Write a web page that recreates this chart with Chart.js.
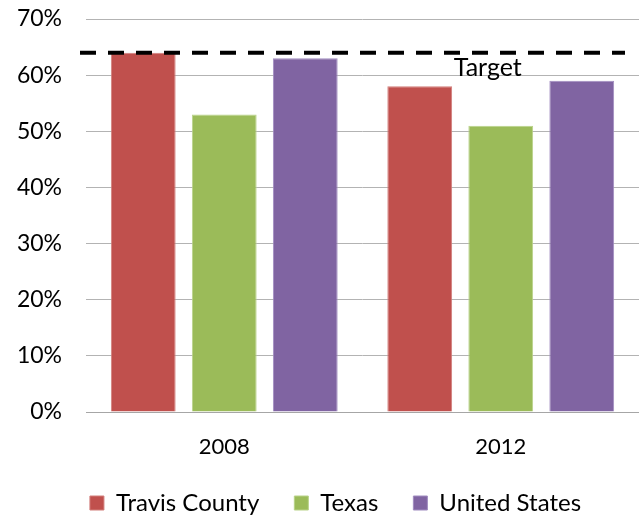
<!DOCTYPE html>
<html>
<head>
<meta charset="utf-8">
<script src="https://cdn.jsdelivr.net/npm/chart.js@4"></script>
<style>
  html, body { margin: 0; padding: 0; background: #ffffff; }
  #wrap { width: 639px; height: 516px; position: relative; }
</style>
</head>
<body>
<div id="wrap"><canvas id="chart" width="639" height="516"></canvas></div>
<script>
// Voter turnout by area, with the target rate
const categories = ['2008', '2012'];
const travisCounty = [64, 58];
const texas = [53, 51];
const unitedStates = [63, 59];
const targetRate = 64;
const targetLabel = 'Target';
const yTickValues = [0, 10, 20, 30, 40, 50, 60, 70];

const FONT = 'Lato, "Open Sans", sans-serif';

// Dashed target line with its caption
const targetLine = {
  id: 'targetLine',
  afterDatasetsDraw(chart) {
    const { ctx, chartArea, scales } = chart;
    const y = scales.y.getPixelForValue(targetRate);
    ctx.save();
    ctx.strokeStyle = '#000000';
    ctx.lineWidth = 4;
    ctx.setLineDash([16, 12]);
    ctx.beginPath();
    ctx.moveTo(chartArea.left - 6, y);
    ctx.lineTo(chartArea.right - 14, y);
    ctx.stroke();
    ctx.setLineDash([]);
    ctx.fillStyle = '#000000';
    ctx.font = '25px ' + FONT;
    ctx.textAlign = 'center';
    ctx.textBaseline = 'alphabetic';
    const x = scales.x.getPixelForValue(1) - 13;
    ctx.fillText(targetLabel, x, y + 23);
    ctx.restore();
  }
};

// Centre the legend row a little to the right, under the plot
const legendShift = {
  id: 'legendShift',
  afterLayout(chart) {
    if (chart.legend) chart.legend.left += 32;
  }
};

new Chart(document.getElementById('chart'), {
  type: 'bar',
  data: {
    labels: categories,
    datasets: [
      { label: 'Travis County', data: travisCounty, backgroundColor: '#C0504D', borderColor: '#D27E7B', borderWidth: 1 },
      { label: 'Texas', data: texas, backgroundColor: '#9BBB59', borderColor: '#B9D389', borderWidth: 1 },
      { label: 'United States', data: unitedStates, backgroundColor: '#8064A2', borderColor: '#A08CC0', borderWidth: 1 }
    ]
  },
  options: {
    responsive: false,
    animation: false,
    devicePixelRatio: 1,
    layout: { padding: { top: 19, right: 0, left: 0, bottom: 0 } },
    datasets: { bar: { categoryPercentage: 0.879, barPercentage: 0.8 } },
    scales: {
      x: {
        afterFit(scale) { scale.height = 44; },
        grid: { display: false, drawTicks: false },
        border: { display: true, color: '#a6a6a6', width: 1 },
        ticks: { color: '#000000', font: { family: FONT, size: 22 }, padding: 22 }
      },
      y: {
        min: 0,
        max: 70,
        afterBuildTicks(scale) { scale.ticks = yTickValues.map(v => ({ value: v })); },
        afterFit(scale) {
          scale.width = 86;
          scale.paddingTop = 0;
          scale.paddingBottom = 0;
        },
        grid: { color: '#b3b3b3', lineWidth: 1, drawTicks: false },
        border: { display: false },
        ticks: {
          color: '#000000',
          font: { family: FONT, size: 23 },
          padding: 24,
          callback: v => v + '%'
        }
      }
    },
    plugins: {
      legend: {
        position: 'bottom',
        maxHeight: 60,
        labels: {
          color: '#000000',
          font: { family: FONT, size: 24 },
          boxWidth: 14,
          boxHeight: 14,
          padding: 35
        }
      },
      tooltip: { enabled: false }
    }
  },
  plugins: [targetLine, legendShift]
});
</script>
</body>
</html>
